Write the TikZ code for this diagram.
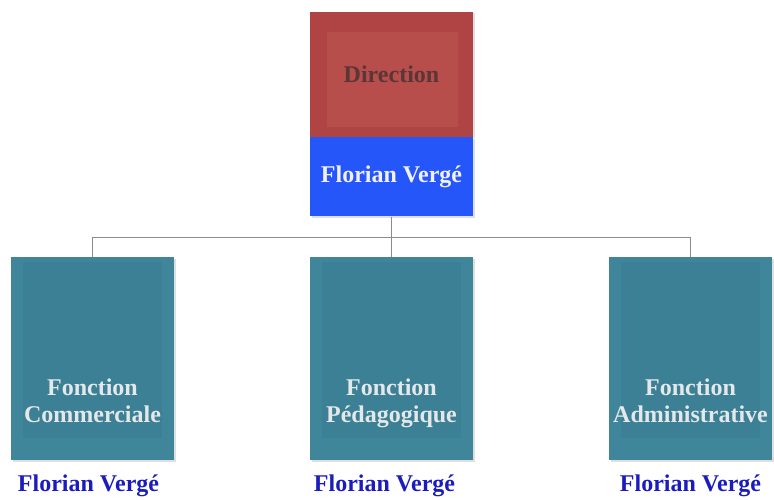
\documentclass[tikz,border=0pt]{standalone}
\usepackage{fontspec}
\setmainfont{Liberation Serif}
\usepackage{tikz}
\usetikzlibrary{positioning,shadows}

\definecolor{rougedir}{RGB}{176,68,68}
\definecolor{rougeint}{RGB}{184,78,76}
\definecolor{bleudir}{RGB}{36,86,250}
\definecolor{sarcelle}{RGB}{64,134,154}
\definecolor{sarcelleint}{RGB}{59,128,148}
\definecolor{texteclair}{RGB}{228,232,234}
\definecolor{textedir}{RGB}{90,54,54}
\definecolor{bleunom}{RGB}{28,28,190}
\definecolor{lien}{RGB}{140,140,140}

\newcommand{\intitule}[1]{\parbox[c][135pt][b]{163pt}{\centering #1\strut}}

\begin{document}
\begin{tikzpicture}[x=1pt, y=1pt,
level distance=182pt, sibling distance=299pt,
every node/.style = {shape=rectangle, inner sep=0pt, align=center,
	font=\fontsize{24}{27}\selectfont\bfseries},
directionbox/.style = {fill=rougedir, text=textedir,
	minimum width=163pt, minimum height=125pt,
	drop shadow={shadow xshift=1.5pt, shadow yshift=-1.5pt, opacity=.25},
	path picture={\fill[rougeint] ([shift={(17pt,-20pt)}]path picture bounding box.north west)
		rectangle ([shift={(-15pt,10pt)}]path picture bounding box.south east);}},
nomtete/.style = {fill=bleudir, text=white!94!blue,
	minimum width=163pt, minimum height=79pt,
	drop shadow={shadow xshift=1.5pt, shadow yshift=-1.5pt, opacity=.25}},
fonctionbox/.style = {fill=sarcelle, text=texteclair,
	minimum width=163pt, minimum height=203pt,
	drop shadow={shadow xshift=1.5pt, shadow yshift=-1.5pt, opacity=.25},
	path picture={\fill[sarcelleint] ([shift={(12pt,-5pt)}]path picture bounding box.north west)
		rectangle ([shift={(-12pt,22pt)}]path picture bounding box.south east);}},
nom/.style = {text=bleunom},
edge from parent/.style = {draw=lien, line width=1.2pt},
edge from parent path = {(\tikzparentnode.south) -- +(0,-21pt) -| (\tikzchildnode.north)}]

\useasboundingbox (0,0) rectangle (774,-500);

\node[directionbox] (direction) at (391.5,-74.5) {Direction};
\node[nomtete, below=0pt of direction] (directeur) {Florian Vergé}
child { node[fonctionbox] (commerciale) {\intitule{Fonction\\Commerciale}} }
child { node[fonctionbox] (pedagogique) {\intitule{Fonction\\Pédagogique}} }
child { node[fonctionbox] (administrative) {\intitule{Fonction\\Administrative}} };

% responsables sous chaque fonction
\node[nom, below=14pt of commerciale, xshift=-4pt] (nomcommerciale) {Florian Vergé};
\node[nom, below=14pt of pedagogique, xshift=-7pt] (nompedagogique) {Florian Vergé};
\node[nom, below=14pt of administrative] (nomadministrative) {Florian Vergé};
\end{tikzpicture}
\end{document}
